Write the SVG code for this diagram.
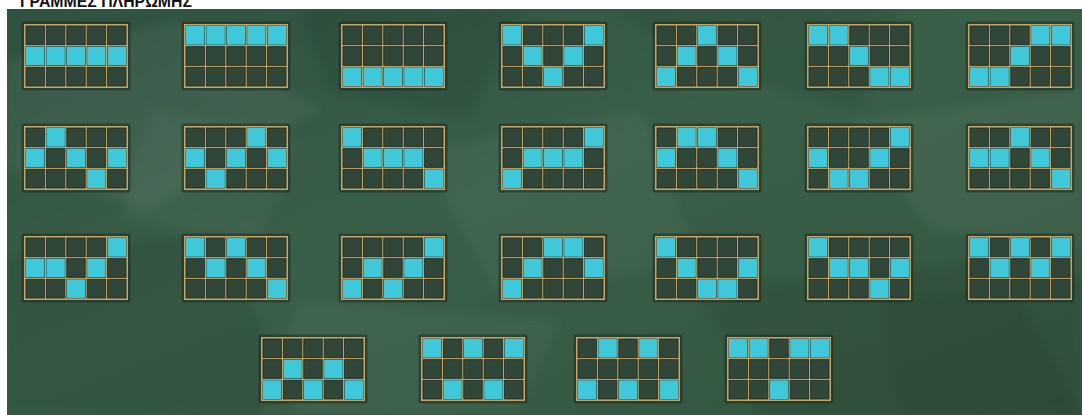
<svg xmlns="http://www.w3.org/2000/svg" xmlns:xlink="http://www.w3.org/1999/xlink" width="1082" height="415" viewBox="0 0 1082 415">
<style>
.title{font-family:"Liberation Sans",Arial,sans-serif;font-weight:bold;font-size:17px;fill:#111}
.shadow{fill:#1c2b22;opacity:.55}
.frame{fill:#c4a466}
.off{fill:#2f4639;stroke:#1d2a22;stroke-width:.8}
.on{fill:#3ec8d9}
.tex{fill:#ffffff}
.texd{fill:#0d1f15}
</style>
<defs>
<linearGradient id="bg" x1="0" y1="0" x2="1" y2="1">
<stop offset="0" stop-color="#2f5140"/>
<stop offset=".45" stop-color="#3a5f48"/>
<stop offset="1" stop-color="#33553f"/>
</linearGradient>
<filter id="soft" x="-10%" y="-10%" width="120%" height="120%"><feGaussianBlur stdDeviation="5"/></filter>
<clipPath id="panel"><rect x="7" y="9" width="1075" height="406"/></clipPath>
<rect id="d" class="off" width="18.4" height="18.67"/>
<rect id="c" class="on" width="18.4" height="18.67"/>
<g id="grid">
<rect class="shadow" x="-2.5" y="-2.5" width="109" height="69" rx="2"/>
<rect class="frame" x="0" y="0" width="104" height="64"/>
<use href="#d" x="2" y="2"/><use href="#d" x="22.4" y="2"/><use href="#d" x="42.8" y="2"/><use href="#d" x="63.2" y="2"/><use href="#d" x="83.6" y="2"/>
<use href="#d" x="2" y="22.67"/><use href="#d" x="22.4" y="22.67"/><use href="#d" x="42.8" y="22.67"/><use href="#d" x="63.2" y="22.67"/><use href="#d" x="83.6" y="22.67"/>
<use href="#d" x="2" y="43.33"/><use href="#d" x="22.4" y="43.33"/><use href="#d" x="42.8" y="43.33"/><use href="#d" x="63.2" y="43.33"/><use href="#d" x="83.6" y="43.33"/>
</g>
</defs>
<rect x="0" y="0" width="1082" height="415" fill="#ffffff"/>
<text class="title" x="20" y="7" textLength="172" lengthAdjust="spacingAndGlyphs">ΓΡΑΜΜΕΣ ΠΛΗΡΩΜΗΣ</text>
<g id="background">
<rect x="7" y="9" width="1075" height="406" fill="url(#bg)"/>
<g clip-path="url(#panel)"><g filter="url(#soft)">
<polygon class="tex" opacity=".05" points="7,60 180,20 320,110 150,210 7,170"/>
<polygon class="texd" opacity=".08" points="300,9 520,9 470,120 330,90"/>
<polygon class="tex" opacity=".04" points="420,150 640,110 700,260 500,300"/>
<polygon class="texd" opacity=".07" points="620,9 900,9 860,110 700,70"/>
<polygon class="tex" opacity=".05" points="850,120 1082,90 1082,250 930,230"/>
<polygon class="texd" opacity=".08" points="7,260 220,230 300,415 7,415"/>
<polygon class="tex" opacity=".04" points="300,300 560,320 520,415 260,415"/>
<polygon class="texd" opacity=".07" points="700,290 1000,260 1082,415 760,415"/>
<polygon class="tex" opacity=".04" points="150,110 300,140 260,240 120,220"/>
<polygon class="texd" opacity=".06" points="880,300 1082,280 1082,415 900,415"/>
</g></g>
</g>
<g id="line-1" transform="translate(24,24)"><use href="#grid"/><use href="#c" x="2" y="22.67"/><use href="#c" x="22.4" y="22.67"/><use href="#c" x="42.8" y="22.67"/><use href="#c" x="63.2" y="22.67"/><use href="#c" x="83.6" y="22.67"/></g>
<g id="line-2" transform="translate(184,24)"><use href="#grid"/><use href="#c" x="2" y="2"/><use href="#c" x="22.4" y="2"/><use href="#c" x="42.8" y="2"/><use href="#c" x="63.2" y="2"/><use href="#c" x="83.6" y="2"/></g>
<g id="line-3" transform="translate(341,24)"><use href="#grid"/><use href="#c" x="2" y="43.33"/><use href="#c" x="22.4" y="43.33"/><use href="#c" x="42.8" y="43.33"/><use href="#c" x="63.2" y="43.33"/><use href="#c" x="83.6" y="43.33"/></g>
<g id="line-4" transform="translate(501,24)"><use href="#grid"/><use href="#c" x="2" y="2"/><use href="#c" x="22.4" y="22.67"/><use href="#c" x="42.8" y="43.33"/><use href="#c" x="63.2" y="22.67"/><use href="#c" x="83.6" y="2"/></g>
<g id="line-5" transform="translate(655,24)"><use href="#grid"/><use href="#c" x="2" y="43.33"/><use href="#c" x="22.4" y="22.67"/><use href="#c" x="42.8" y="2"/><use href="#c" x="63.2" y="22.67"/><use href="#c" x="83.6" y="43.33"/></g>
<g id="line-6" transform="translate(807,24)"><use href="#grid"/><use href="#c" x="2" y="2"/><use href="#c" x="22.4" y="2"/><use href="#c" x="42.8" y="22.67"/><use href="#c" x="63.2" y="43.33"/><use href="#c" x="83.6" y="43.33"/></g>
<g id="line-7" transform="translate(968,24)"><use href="#grid"/><use href="#c" x="2" y="43.33"/><use href="#c" x="22.4" y="43.33"/><use href="#c" x="42.8" y="22.67"/><use href="#c" x="63.2" y="2"/><use href="#c" x="83.6" y="2"/></g>
<g id="line-8" transform="translate(24,126)"><use href="#grid"/><use href="#c" x="2" y="22.67"/><use href="#c" x="22.4" y="2"/><use href="#c" x="42.8" y="22.67"/><use href="#c" x="63.2" y="43.33"/><use href="#c" x="83.6" y="22.67"/></g>
<g id="line-9" transform="translate(184,126)"><use href="#grid"/><use href="#c" x="2" y="22.67"/><use href="#c" x="22.4" y="43.33"/><use href="#c" x="42.8" y="22.67"/><use href="#c" x="63.2" y="2"/><use href="#c" x="83.6" y="22.67"/></g>
<g id="line-10" transform="translate(341,126)"><use href="#grid"/><use href="#c" x="2" y="2"/><use href="#c" x="22.4" y="22.67"/><use href="#c" x="42.8" y="22.67"/><use href="#c" x="63.2" y="22.67"/><use href="#c" x="83.6" y="43.33"/></g>
<g id="line-11" transform="translate(501,126)"><use href="#grid"/><use href="#c" x="2" y="43.33"/><use href="#c" x="22.4" y="22.67"/><use href="#c" x="42.8" y="22.67"/><use href="#c" x="63.2" y="22.67"/><use href="#c" x="83.6" y="2"/></g>
<g id="line-12" transform="translate(655,126)"><use href="#grid"/><use href="#c" x="2" y="22.67"/><use href="#c" x="22.4" y="2"/><use href="#c" x="42.8" y="2"/><use href="#c" x="63.2" y="22.67"/><use href="#c" x="83.6" y="43.33"/></g>
<g id="line-13" transform="translate(807,126)"><use href="#grid"/><use href="#c" x="2" y="22.67"/><use href="#c" x="22.4" y="43.33"/><use href="#c" x="42.8" y="43.33"/><use href="#c" x="63.2" y="22.67"/><use href="#c" x="83.6" y="2"/></g>
<g id="line-14" transform="translate(968,126)"><use href="#grid"/><use href="#c" x="2" y="22.67"/><use href="#c" x="22.4" y="22.67"/><use href="#c" x="42.8" y="2"/><use href="#c" x="63.2" y="22.67"/><use href="#c" x="83.6" y="43.33"/></g>
<g id="line-15" transform="translate(24,236)"><use href="#grid"/><use href="#c" x="2" y="22.67"/><use href="#c" x="22.4" y="22.67"/><use href="#c" x="42.8" y="43.33"/><use href="#c" x="63.2" y="22.67"/><use href="#c" x="83.6" y="2"/></g>
<g id="line-16" transform="translate(184,236)"><use href="#grid"/><use href="#c" x="2" y="2"/><use href="#c" x="22.4" y="22.67"/><use href="#c" x="42.8" y="2"/><use href="#c" x="63.2" y="22.67"/><use href="#c" x="83.6" y="43.33"/></g>
<g id="line-17" transform="translate(341,236)"><use href="#grid"/><use href="#c" x="2" y="43.33"/><use href="#c" x="22.4" y="22.67"/><use href="#c" x="42.8" y="43.33"/><use href="#c" x="63.2" y="22.67"/><use href="#c" x="83.6" y="2"/></g>
<g id="line-18" transform="translate(501,236)"><use href="#grid"/><use href="#c" x="2" y="43.33"/><use href="#c" x="22.4" y="22.67"/><use href="#c" x="42.8" y="2"/><use href="#c" x="63.2" y="2"/><use href="#c" x="83.6" y="22.67"/></g>
<g id="line-19" transform="translate(655,236)"><use href="#grid"/><use href="#c" x="2" y="2"/><use href="#c" x="22.4" y="22.67"/><use href="#c" x="42.8" y="43.33"/><use href="#c" x="63.2" y="43.33"/><use href="#c" x="83.6" y="22.67"/></g>
<g id="line-20" transform="translate(807,236)"><use href="#grid"/><use href="#c" x="2" y="2"/><use href="#c" x="22.4" y="22.67"/><use href="#c" x="42.8" y="22.67"/><use href="#c" x="63.2" y="43.33"/><use href="#c" x="83.6" y="22.67"/></g>
<g id="line-21" transform="translate(968,236)"><use href="#grid"/><use href="#c" x="2" y="2"/><use href="#c" x="22.4" y="22.67"/><use href="#c" x="42.8" y="2"/><use href="#c" x="63.2" y="22.67"/><use href="#c" x="83.6" y="2"/></g>
<g id="line-22" transform="translate(261,337)"><use href="#grid"/><use href="#c" x="2" y="43.33"/><use href="#c" x="22.4" y="22.67"/><use href="#c" x="42.8" y="43.33"/><use href="#c" x="63.2" y="22.67"/><use href="#c" x="83.6" y="43.33"/></g>
<g id="line-23" transform="translate(421,337)"><use href="#grid"/><use href="#c" x="2" y="2"/><use href="#c" x="22.4" y="43.33"/><use href="#c" x="42.8" y="2"/><use href="#c" x="63.2" y="43.33"/><use href="#c" x="83.6" y="2"/></g>
<g id="line-24" transform="translate(576,337)"><use href="#grid"/><use href="#c" x="2" y="43.33"/><use href="#c" x="22.4" y="2"/><use href="#c" x="42.8" y="43.33"/><use href="#c" x="63.2" y="2"/><use href="#c" x="83.6" y="43.33"/></g>
<g id="line-25" transform="translate(727,337)"><use href="#grid"/><use href="#c" x="2" y="2"/><use href="#c" x="22.4" y="2"/><use href="#c" x="42.8" y="43.33"/><use href="#c" x="63.2" y="2"/><use href="#c" x="83.6" y="2"/></g>
<g id="connectors"/>
</svg>
